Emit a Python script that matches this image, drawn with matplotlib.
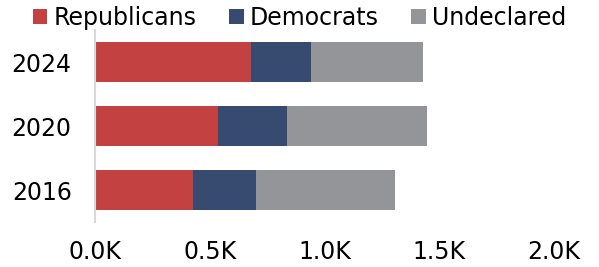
import matplotlib
matplotlib.use("Agg")
import matplotlib.pyplot as plt
from matplotlib.ticker import FuncFormatter

years = ["2016", "2020", "2024"]
republicans = [425, 535, 680]
democrats = [275, 300, 260]
undeclared = [605, 610, 490]

series = [
    ("Republicans", republicans, "#c44142"),
    ("Democrats", democrats, "#374a70"),
    ("Undeclared", undeclared, "#949599"),
]

plt.rcParams["font.family"] = ["DejaVu Sans"]

fig = plt.figure(figsize=(5.99, 2.67), dpi=100)
ax = fig.add_axes([0.159, 0.1685, 0.766, 0.719])

left = [0] * len(years)
for name, values, color in series:
    ax.barh(years, values, left=left, height=0.625, color=color, label=name)
    left = [a + b for a, b in zip(left, values)]

ax.set_xlim(0, 2000)
ax.set_ylim(-0.5, 2.5)
ax.set_xticks([0, 500, 1000, 1500, 2000])
ax.xaxis.set_major_formatter(FuncFormatter(lambda v, _: f"{v / 1000:.1f}K"))

for side in ("top", "right", "bottom"):
    ax.spines[side].set_visible(False)
ax.spines["left"].set_color("#d9d9d9")
ax.spines["left"].set_linewidth(1.5)
ax.tick_params(axis="both", length=0, labelsize=17, colors="black")
ax.tick_params(axis="y", pad=17)
ax.tick_params(axis="x", pad=13)

fig.legend(
    loc="center", bbox_to_anchor=(0.5, 0.933), ncol=3, frameon=False,
    fontsize=17, handlelength=0.6, handleheight=0.6, handletextpad=0.25,
    columnspacing=1.4, borderpad=0, borderaxespad=0,
)

fig.savefig("out.png", dpi=100)
